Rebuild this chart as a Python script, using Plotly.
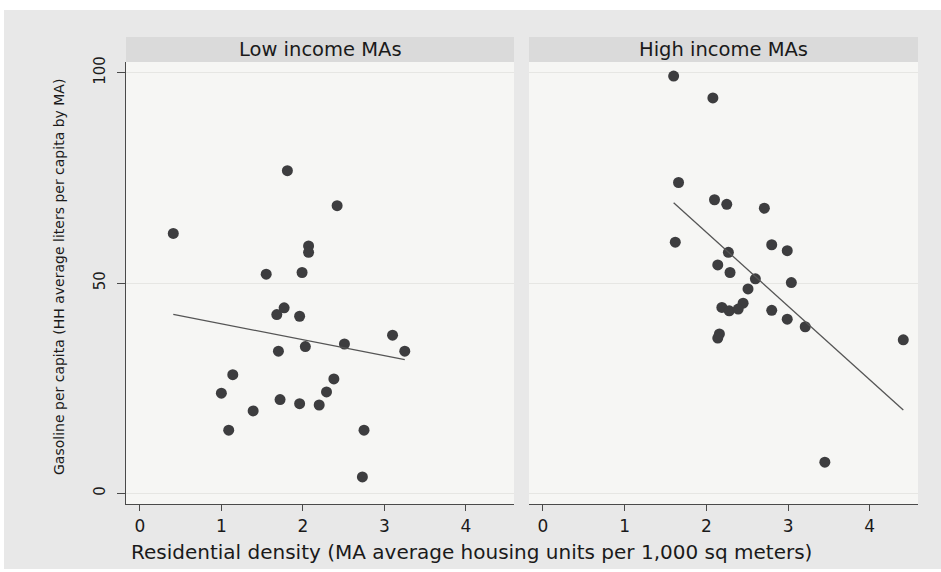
import numpy as np
import plotly.graph_objects as go

# Residential density (housing units per 1,000 sq m) and gasoline per capita, by income group
low_density = [0.41, 1.81, 2.42, 2.07, 2.07, 1.55, 1.99, 1.77, 1.68, 1.96, 3.10, 2.51, 2.03,
               1.70, 3.25, 1.14, 2.38, 2.29, 1.00, 1.72, 1.96, 2.20, 1.39, 1.09, 2.75, 2.73]
low_gasoline = [61.8, 76.7, 68.4, 58.8, 57.3, 52.1, 52.5, 44.1, 42.5, 42.1, 37.6, 35.5, 34.9,
                33.8, 33.8, 28.2, 27.2, 24.1, 23.8, 22.3, 21.3, 21.0, 19.6, 15.0, 15.0, 3.9]

high_density = [1.60, 2.08, 1.66, 2.10, 2.25, 2.71, 1.62, 2.80, 2.99, 2.27, 2.14, 2.29, 2.60,
                3.04, 2.51, 2.45, 2.19, 2.28, 2.39, 2.80, 2.99, 3.21, 2.16, 2.14, 4.41, 3.45]
high_gasoline = [99.2, 94.0, 73.9, 69.8, 68.7, 67.8, 59.7, 59.1, 57.7, 57.3, 54.3, 52.5, 51.0,
                 50.1, 48.6, 45.2, 44.2, 43.4, 43.8, 43.5, 41.4, 39.6, 37.9, 36.9, 36.5, 7.4]

panel_titles = ["Low income MAs", "High income MAs"]
x_ticks = [0, 1, 2, 3, 4]
y_ticks = [0, 50, 100]
x_title = "Residential density (MA average housing units per 1,000 sq meters)"
y_title = "Gasoline per capita (HH average liters per capita by MA)"

W, H = 941, 572
FONT = "DejaVu Sans"
OUTER_BG = "#e8e8e8"
PLOT_BG = "#f6f6f4"
STRIP_BG = "#dadada"
GRID = "#e6e6e3"
MARKER = "#3d3d3f"
AXIS = "#4a4a4a"
TEXT = "#1a1a1a"


def fx(px):
    return px / W


def fy(py):
    return 1 - py / H


def ols_line(x, y):
    x = np.asarray(x, float)
    y = np.asarray(y, float)
    slope, intercept = np.polyfit(x, y, 1)
    xs = np.array([x.min(), x.max()])
    return xs, intercept + slope * xs


fig = go.Figure()

panels = [(low_density, low_gasoline, "x", "y"), (high_density, high_gasoline, "x2", "y2")]
for xd, yd, xa, ya in panels:
    fig.add_trace(go.Scatter(
        x=xd, y=yd, mode="markers", xaxis=xa, yaxis=ya,
        marker=dict(size=11, color=MARKER, line=dict(width=0)),
        showlegend=False, hoverinfo="x+y"))
    lx, ly = ols_line(xd, yd)
    fig.add_trace(go.Scatter(
        x=lx, y=ly, mode="lines", xaxis=xa, yaxis=ya,
        line=dict(color="#555555", width=1.3),
        showlegend=False, hoverinfo="skip"))

x_range = [-0.17, 4.59]
y_range = [-2.54, 102.55]
y_domain = [fy(504), fy(62)]

xaxis_common = dict(
    range=x_range, tickvals=x_ticks, ticktext=[str(v) for v in x_ticks],
    showgrid=False, zeroline=False, showline=True, linecolor=AXIS, linewidth=1.2,
    ticks="outside", ticklen=6, tickcolor=AXIS, tickwidth=1.2,
    tickfont=dict(family=FONT, size=17, color=TEXT), automargin=False, fixedrange=True)

fig.update_layout(
    width=W, height=H,
    margin=dict(l=0, r=0, t=0, b=0, pad=0, autoexpand=False),
    paper_bgcolor=OUTER_BG, plot_bgcolor=PLOT_BG,
    xaxis=dict(xaxis_common, domain=[fx(126), fx(514)], anchor="y"),
    xaxis2=dict(xaxis_common, domain=[fx(529), fx(918)], anchor="y2"),
    yaxis=dict(
        range=y_range, domain=y_domain, anchor="x",
        tickvals=y_ticks, ticktext=[str(v) for v in y_ticks], tickangle=-90,
        showgrid=True, gridcolor=GRID, gridwidth=1, zeroline=False,
        showline=True, linecolor=AXIS, linewidth=1.2,
        ticks="outside", ticklen=8, tickcolor=AXIS, tickwidth=1.2,
        ticklabelstandoff=6, automargin=False,
        tickfont=dict(family=FONT, size=15, color=TEXT), fixedrange=True),
    yaxis2=dict(
        range=y_range, domain=y_domain, anchor="x2",
        tickvals=y_ticks, showticklabels=False, ticks="",
        showgrid=True, gridcolor=GRID, gridwidth=1, zeroline=False,
        showline=False, automargin=False, fixedrange=True),
)

# white border around the gray graph region
for x0, x1, y0, y1 in [(0, W, 0, 10), (0, 4, 0, H), (0, W, 569, H)]:
    fig.add_shape(type="rect", xref="paper", yref="paper",
                  x0=fx(x0), x1=fx(x1), y0=fy(y1), y1=fy(y0),
                  fillcolor="white", line=dict(width=0), layer="below")

# panel header strips
for (sx0, sx1), title in zip([(126, 514), (529, 918)], panel_titles):
    fig.add_shape(type="rect", xref="paper", yref="paper",
                  x0=fx(sx0), x1=fx(sx1), y0=fy(62), y1=fy(37),
                  fillcolor=STRIP_BG, line=dict(width=0), layer="below")
    fig.add_annotation(x=fx((sx0 + sx1) / 2), y=fy(49.5), xref="paper", yref="paper",
                       text=title, showarrow=False, xanchor="center", yanchor="middle",
                       font=dict(family=FONT, size=19.5, color=TEXT))

fig.add_annotation(x=fx(471), y=fy(552), xref="paper", yref="paper",
                   text=x_title, showarrow=False, xanchor="center", yanchor="middle",
                   font=dict(family=FONT, size=20, color=TEXT))
fig.add_annotation(x=fx(59), y=fy(277), xref="paper", yref="paper",
                   text=y_title, showarrow=False, textangle=-90,
                   xanchor="center", yanchor="middle",
                   font=dict(family=FONT, size=14, color=TEXT))

fig.write_html("out.html")
